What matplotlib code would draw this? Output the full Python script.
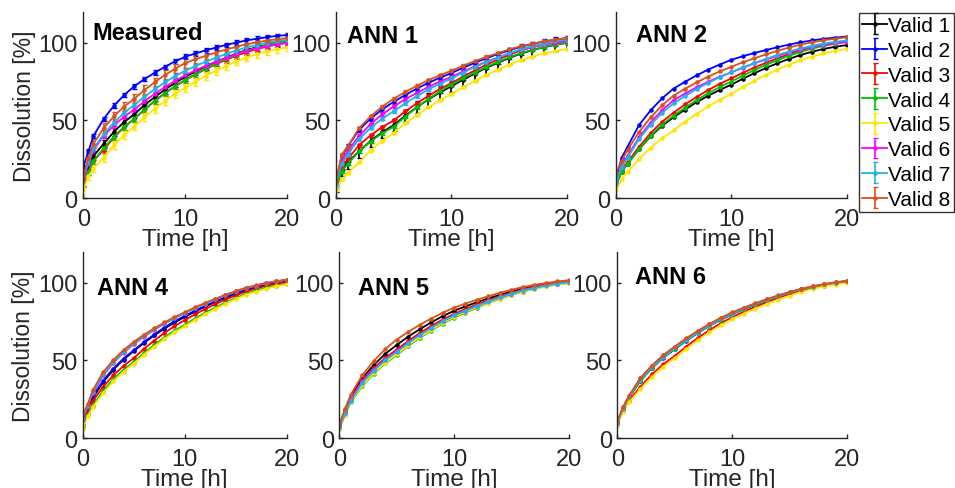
import matplotlib

matplotlib.use("Agg")
import matplotlib.pyplot as plt

plt.rcParams["font.family"] = ["Liberation Sans", "DejaVu Sans"]

time_h = [0, 0.5, 1, 2, 3, 4, 5, 6, 7, 8, 9, 10, 11, 12, 13, 14, 15, 16, 17, 18, 19, 20]
series_names = ["Valid 1", "Valid 2", "Valid 3", "Valid 4", "Valid 5", "Valid 6", "Valid 7", "Valid 8"]
series_colors = ["#000000", "#0000ff", "#ff0000", "#00c000", "#ffe600", "#ff00ff", "#1fb4e8", "#d95319"]
panel_titles = ["Measured", "ANN 1", "ANN 2", "ANN 4", "ANN 5", "ANN 6"]

# Measured
measured = [
    [10, 19, 27, 35, 42.6, 48.9, 54, 59.8, 65.0, 69.8, 74.2, 78, 81.5, 84.7, 87.7, 90.4, 93.0, 95.3, 97.1, 98.7, 100.0, 101],
    [20, 30, 40, 51, 59.4, 66.3, 72, 76.6, 80.7, 84.5, 88.0, 91, 93.1, 95.1, 96.9, 98.6, 100.1, 101.5, 102.6, 103.6, 104.4, 105],
    [10, 17, 24, 31, 39, 45.6, 51, 57, 62.5, 67.5, 72, 76, 79.6, 83.0, 86.1, 89.0, 91.6, 94.0, 95.9, 97.6, 98.9, 100],
    [9, 17, 24, 32, 39.6, 45.9, 51, 57, 62.5, 67.5, 72, 76, 79.8, 83.3, 86.5, 89.5, 92.3, 94.8, 96.8, 98.5, 99.9, 101],
    [5, 14, 19, 26, 34, 40.6, 46, 52, 57.5, 62.5, 67, 71, 74.9, 78.5, 81.9, 85.0, 87.9, 90.5, 92.6, 94.4, 95.8, 97],
    [12, 22, 31, 40, 46.8, 52.4, 57, 62.3, 67.1, 71.5, 75.5, 79, 82.2, 85.1, 87.8, 90.3, 92.7, 94.8, 96.4, 97.9, 99.1, 100],
    [14, 23, 32, 41, 48.6, 54.9, 60, 65.3, 70.1, 74.5, 78.5, 82, 85.0, 87.8, 90.4, 92.8, 95.0, 97.0, 98.6, 100.0, 101.1, 102],
    [14, 26, 35, 45, 52.6, 58.9, 64, 69.5, 74.6, 79.2, 83.3, 87, 89.4, 91.6, 93.7, 95.6, 97.4, 99.0, 100.3, 101.4, 102.3, 103],
]
measured_err = [2.5, 1.5, 2.0, 2.0, 2.5, 1.5, 2.0, 3.0]

ann1 = [
    [8, 18, 23, 30, 36.8, 42.4, 47, 53.0, 58.5, 63.5, 68.0, 72, 76.2, 80.1, 83.8, 87.1, 90.2, 93.0, 95.2, 97.2, 98.7, 100],
    [10, 27, 33, 44, 51.2, 57.1, 62, 66.4, 70.5, 74.2, 77.5, 80.5, 83.9, 87.0, 90.0, 92.7, 95.1, 97.4, 99.2, 100.8, 102.0, 103],
    [9, 20, 25, 34, 40.4, 45.7, 50, 55.8, 61.0, 65.8, 70.2, 74, 78.2, 82.1, 85.8, 89.1, 92.2, 95.0, 97.2, 99.2, 100.7, 102],
    [7, 17, 22, 30, 36.4, 41.7, 46, 52.5, 58.4, 63.8, 68.7, 73, 77.1, 80.8, 84.3, 87.6, 90.6, 93.3, 95.4, 97.3, 98.8, 100],
    [5, 12, 16, 23, 30.6, 36.9, 42, 48.0, 53.5, 58.5, 63.0, 67, 71.4, 75.4, 79.2, 82.7, 85.9, 88.8, 91.1, 93.1, 94.7, 96],
    [10, 24, 30, 40, 47.6, 53.9, 59, 63.6, 67.7, 71.5, 75.0, 78, 81.5, 84.7, 87.7, 90.4, 93.0, 95.3, 97.1, 98.7, 100.0, 101],
    [9, 22, 28, 38, 45.2, 51.1, 56, 61.0, 65.7, 69.9, 73.6, 77, 80.8, 84.3, 87.5, 90.5, 93.3, 95.8, 97.8, 99.5, 100.9, 102],
    [11, 28, 33, 45, 52.6, 58.9, 64, 68.3, 72.3, 75.9, 79.1, 82, 85.2, 88.1, 90.8, 93.3, 95.7, 97.8, 99.4, 100.9, 102.1, 103],
]
ann1_err = [4.0, 1.5, 1.0, 1.0, 0.5, 1.0, 1.0, 1.0]

ann2 = [
    [9, 17, 22, 31.5, 39.7, 46.5, 52, 57.0, 61.7, 65.9, 69.6, 73, 76.8, 80.4, 83.7, 86.8, 89.6, 92.1, 94.2, 96.0, 97.4, 98.5],
    [13, 26, 33, 47, 56.4, 64.2, 70.5, 74.9, 79.0, 82.7, 86.0, 89, 91.3, 93.4, 95.3, 97.1, 98.8, 100.3, 101.5, 102.5, 103.3, 104],
    [9, 18, 23, 33, 41.8, 49.1, 55, 60.3, 65.1, 69.5, 73.5, 77, 80.6, 84.0, 87.1, 90.0, 92.6, 95.0, 96.9, 98.6, 99.9, 101],
    [8, 17, 22, 31.5, 40.1, 47.2, 53, 58.3, 63.1, 67.5, 71.5, 75, 78.8, 82.4, 85.7, 88.8, 91.6, 94.1, 96.2, 98.0, 99.4, 100.5],
    [5, 12, 17, 25, 32.4, 38.5, 43.5, 49.1, 54.3, 59.0, 63.2, 67, 71.4, 75.4, 79.2, 82.7, 85.9, 88.8, 91.1, 93.1, 94.7, 96],
    [10, 21, 27, 39, 48.6, 56.5, 63, 67.3, 71.3, 74.9, 78.1, 81, 83.9, 86.7, 89.2, 91.5, 93.7, 95.6, 97.2, 98.6, 99.6, 100.5],
    [10, 20, 26, 38, 47.2, 54.8, 61, 65.8, 70.2, 74.2, 77.8, 81, 84.1, 86.9, 89.6, 92.1, 94.3, 96.4, 98.0, 99.5, 100.6, 101.5],
    [16, 24, 31, 42.5, 51.9, 59.7, 66, 70.4, 74.5, 78.2, 81.5, 84.5, 87.4, 90.0, 92.5, 94.8, 96.9, 98.8, 100.3, 101.6, 102.6, 103.5],
]

ann4 = [
    [10, 18, 26, 36, 44.0, 50.6, 56, 61.3, 66.1, 70.5, 74.5, 78, 81.5, 84.7, 87.7, 90.4, 93.0, 95.3, 97.1, 98.7, 100.0, 101],
    [10, 19, 27, 37, 44.8, 51.2, 56.5, 61.8, 66.7, 71.2, 75.2, 78.7, 82.0, 85.2, 88.1, 90.7, 93.2, 95.4, 97.2, 98.8, 100.0, 101],
    [9, 17, 24, 33, 40.4, 46.5, 51.5, 57.4, 62.8, 67.7, 72.1, 76, 79.7, 83.1, 86.3, 89.2, 91.9, 94.4, 96.3, 98.1, 99.4, 100.5],
    [7, 15, 21, 30.5, 37.9, 44.0, 49, 54.8, 60.0, 64.8, 69.2, 73, 77.0, 80.7, 84.1, 87.3, 90.2, 92.9, 95.0, 96.9, 98.3, 99.5],
    [6, 14, 20, 29, 36.6, 42.9, 48, 53.8, 59.0, 63.8, 68.2, 72, 76.1, 79.8, 83.3, 86.6, 89.6, 92.3, 94.4, 96.3, 97.8, 99],
    [12, 21, 29, 40.5, 48.5, 55.1, 60.5, 65.3, 69.7, 73.7, 77.3, 80.5, 83.7, 86.7, 89.5, 92.1, 94.5, 96.6, 98.3, 99.9, 101.0, 102],
    [13, 21, 30, 41, 49.0, 55.6, 61, 65.7, 70.0, 73.9, 77.4, 80.5, 83.7, 86.7, 89.5, 92.1, 94.5, 96.6, 98.3, 99.9, 101.0, 102],
    [15, 22, 31, 42.5, 50.3, 56.7, 62, 66.6, 70.7, 74.5, 78.0, 81, 84.2, 87.1, 89.8, 92.3, 94.7, 96.8, 98.4, 99.9, 101.1, 102],
]

ann5 = [
    [8, 18, 27, 38.5, 47.1, 54.2, 60, 65.3, 70.1, 74.5, 78.5, 82, 84.9, 87.5, 90.0, 92.3, 94.4, 96.3, 97.8, 99.1, 100.1, 101],
    [7, 16, 25, 36.5, 44.5, 51.1, 56.5, 62.0, 67.1, 71.7, 75.8, 79.5, 82.7, 85.6, 88.3, 90.8, 93.2, 95.3, 96.9, 98.4, 99.6, 100.5],
    [8, 17, 26, 37, 45.0, 51.6, 57, 62.5, 67.6, 72.2, 76.3, 80, 83.2, 86.1, 88.8, 91.3, 93.7, 95.8, 97.4, 98.9, 100.1, 101],
    [6, 15, 23, 33.5, 41.5, 48.1, 53.5, 59.3, 64.5, 69.3, 73.7, 77.5, 80.9, 84.0, 87.0, 89.7, 92.1, 94.4, 96.2, 97.8, 99.0, 100],
    [6, 15, 23.5, 34, 42.0, 48.6, 54, 59.8, 65.0, 69.8, 74.2, 78, 81.3, 84.4, 87.2, 89.9, 92.3, 94.5, 96.3, 97.8, 99.0, 100],
    [7, 16, 25, 36.5, 44.3, 50.7, 56, 61.5, 66.6, 71.2, 75.3, 79, 82.2, 85.2, 88.0, 90.6, 93.0, 95.1, 96.8, 98.4, 99.5, 100.5],
    [7, 16, 24, 35.5, 43.5, 50.1, 55.5, 61.1, 66.3, 71.0, 75.2, 79, 82.2, 85.2, 88.0, 90.6, 93.0, 95.1, 96.8, 98.4, 99.5, 100.5],
    [9, 19, 28, 40.5, 49.7, 57.3, 63.5, 68.4, 72.9, 77.0, 80.7, 84, 86.7, 89.1, 91.4, 93.6, 95.5, 97.3, 98.7, 99.9, 100.9, 101.7],
]

ann6 = [
    [10, 19, 26, 37.5, 45.6, 52.4, 57.8, 63.2, 68.1, 72.6, 76.6, 80.2, 83.4, 86.3, 88.9, 91.4, 93.8, 95.9, 97.5, 99.0, 100.2, 101.1],
    [10, 19, 26, 37, 45.1, 51.8, 57.3, 62.7, 67.7, 72.2, 76.2, 79.8, 83.0, 85.9, 88.6, 91.2, 93.6, 95.7, 97.3, 98.8, 100.0, 101],
    [9, 18, 24, 33, 41.0, 47.6, 53, 59.0, 64.5, 69.5, 74.0, 78, 81.4, 84.6, 87.5, 90.2, 92.7, 94.9, 96.8, 98.3, 99.6, 100.6],
    [10, 19, 26, 37, 45.2, 52.0, 57.5, 62.9, 67.9, 72.4, 76.4, 80, 83.2, 86.1, 88.8, 91.3, 93.7, 95.8, 97.4, 98.9, 100.1, 101],
    [8, 17, 23, 31.5, 39.5, 46.1, 51.5, 57.5, 63.1, 68.1, 72.6, 76.6, 80.1, 83.4, 86.4, 89.2, 91.8, 94.2, 96.0, 97.7, 98.9, 100],
    [10, 20, 27, 38.5, 46.6, 53.4, 58.8, 64.1, 68.9, 73.3, 77.3, 80.8, 83.8, 86.7, 89.3, 91.8, 94.0, 96.0, 97.7, 99.1, 100.3, 101.2],
    [10, 19, 26.5, 37.5, 45.5, 52.3, 57.8, 63.1, 68.0, 72.5, 76.6, 80.2, 83.4, 86.3, 88.9, 91.4, 93.8, 95.9, 97.5, 99.0, 100.2, 101.1],
    [11, 20, 27, 38.5, 46.7, 53.5, 59, 64.3, 69.1, 73.5, 77.5, 81, 84.0, 86.9, 89.5, 92.0, 94.2, 96.2, 97.8, 99.2, 100.4, 101.3],
]

panels = [measured, ann1, ann2, ann4, ann5, ann6]
panel_errs = [measured_err, ann1_err, None, None, None, None]

# axes positions [left, bottom, width, height] in figure fraction
positions = [
    [0.0872, 0.593, 0.2136, 0.381],
    [0.3518, 0.593, 0.2419, 0.381],
    [0.6450, 0.593, 0.2414, 0.381],
    [0.0866, 0.102, 0.2136, 0.381],
    [0.3553, 0.102, 0.2402, 0.381],
    [0.6464, 0.102, 0.2408, 0.381],
]
# where each panel label sits (axes fraction, left / vertical centre)
title_xy = [(0.043, 0.89), (0.048, 0.875), (0.087, 0.88),
            (0.069, 0.81), (0.082, 0.81), (0.077, 0.865)]

axis_col = "#262626"
fig = plt.figure(figsize=(9.55, 4.89), dpi=100)
legend_handles = None

for i, (data, errs, title) in enumerate(zip(panels, panel_errs, panel_titles)):
    ax = fig.add_axes(positions[i])
    handles = []
    for j, ys in enumerate(data):
        e = None if errs is None else errs[j]
        h = ax.errorbar(time_h, ys, yerr=e, color=series_colors[j], marker=".", ms=4.5,
                        lw=1.3, elinewidth=1.2, capsize=1.8, label=series_names[j])
        handles.append(h)
    if i == 0:
        legend_handles = handles
    ax.set_xlim(0, 20)
    ax.set_ylim(0, 120)
    ax.set_xticks([0, 10, 20])
    ax.set_yticks([0, 50, 100])
    ax.spines["top"].set_visible(False)
    ax.spines["right"].set_visible(False)
    for s in ("left", "bottom"):
        ax.spines[s].set_color(axis_col)
        ax.spines[s].set_linewidth(1.0)
    ax.tick_params(direction="in", length=3, width=1, colors=axis_col, labelsize=17)
    ax.tick_params(axis="x", pad=7)
    ax.tick_params(axis="y", pad=4)
    ax.set_xlabel("Time [h]", fontsize=17.5, color=axis_col, labelpad=-1)
    if i % 3 == 0:
        ax.set_ylabel("Dissolution [%]", fontsize=16.5, color=axis_col, labelpad=2)
    tx, ty = title_xy[i]
    ax.text(tx, ty, title, transform=ax.transAxes, fontsize=17, fontweight="bold",
            ha="left", va="center")

fig.legend(legend_handles, series_names, loc="upper left", bbox_to_anchor=(0.8995, 0.9714),
           fontsize=15, frameon=True, fancybox=False, edgecolor="#000000",
           borderpad=0.15, labelspacing=0.28, handlelength=1.2, handletextpad=0.05,
           borderaxespad=0)

fig.savefig("out.png", dpi=100)
